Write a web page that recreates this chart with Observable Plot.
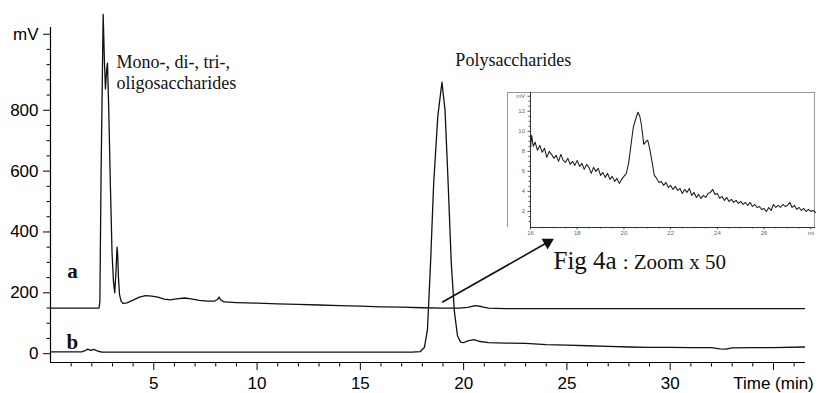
<!DOCTYPE html>
<html>
<head>
<meta charset="utf-8">
<script src="https://cdn.jsdelivr.net/npm/d3@7"></script>
<script src="https://cdn.jsdelivr.net/npm/@observablehq/plot@0.6"></script>
<style>
  html, body { margin: 0; padding: 0; background: white; }
  #wrap { position: relative; width: 821px; height: 393px; }
  #box { position: absolute; left: 507px; top: 92px; width: 308px; height: 135px; box-sizing: border-box; border: 1.5px solid #9a9a9a; border-bottom: none; }
  #inset { position: absolute; left: 507px; top: 92px; }
  svg { overflow: visible; }
</style>
</head>
<body>
<div id="wrap"><div id="box"></div><div id="inset"></div></div>
<script>
// ---- Trace a (upper chromatogram), time in min, signal in mV ----
const aTimes  = [0, 2.35, 2.39, 2.45, 2.55, 2.61, 2.66, 2.72, 2.76, 2.82, 2.9, 2.98, 3.05, 3.11, 3.17, 3.22, 3.25, 3.29, 3.34, 3.42, 3.52, 3.7, 4.0, 4.3, 4.6, 4.9, 5.2, 5.5, 5.8, 6.1, 6.5, 6.8, 7.2, 7.6, 7.95, 8.08, 8.16, 8.25, 8.4, 9, 10, 11, 12, 13, 14, 15, 16, 17, 18, 19, 19.8, 20.2, 20.55, 20.85, 21.2, 22, 25, 30, 36.5];
const aValues = [150, 150, 170, 600, 1115, 960, 870, 935, 955, 800, 550, 330, 235, 200, 270, 350, 330, 250, 195, 172, 165, 167, 176, 186, 191, 189, 186, 179, 177, 180, 183, 180, 175, 173, 173, 178, 186, 176, 170, 168, 166, 164, 162, 160, 158, 156, 154, 153, 151, 150, 150, 152, 158, 155, 150, 148, 148, 148, 148];
// ---- Trace b (lower chromatogram) ----
const bTimes  = [0, 1.5, 1.65, 1.8, 1.95, 2.1, 2.3, 2.5, 10, 17.5, 17.9, 18.1, 18.25, 18.4, 18.55, 18.75, 18.95, 19.1, 19.25, 19.4, 19.55, 19.7, 19.85, 20.0, 20.2, 20.5, 20.8, 21.2, 22, 23, 24, 25, 26, 27, 28, 29, 30, 31, 32, 32.4, 32.7, 33.0, 34, 35, 36.5];
const bValues = [6, 6, 9, 15, 11, 14, 8, 5, 5, 5, 7, 20, 80, 300, 560, 780, 892, 800, 560, 300, 140, 60, 38, 36, 42, 46, 40, 36, 35, 34, 30, 28, 26, 24, 22, 21, 21, 20, 20, 16, 15, 19, 20, 20, 22];
// ---- Inset: Fig 4a zoom x 50 ----
const insetTimes  = [16.0, 16.05, 16.12, 16.2, 16.3, 16.4, 16.5, 16.6, 16.7, 16.8, 16.9, 17.0, 17.1, 17.2, 17.3, 17.4, 17.5, 17.6, 17.7, 17.8, 17.9, 18.0, 18.1, 18.2, 18.3, 18.4, 18.5, 18.6, 18.7, 18.8, 18.9, 19.0, 19.1, 19.2, 19.3, 19.4, 19.5, 19.6, 19.7, 19.8, 19.9, 20.0, 20.1, 20.2, 20.3, 20.4, 20.5, 20.6, 20.68, 20.75, 20.85, 20.95, 21.02, 21.1, 21.2, 21.3, 21.4, 21.5, 21.6, 21.7, 21.8, 21.9, 22.0, 22.1, 22.2, 22.3, 22.4, 22.5, 22.6, 22.7, 22.8, 22.9, 23.0, 23.1, 23.2, 23.3, 23.4, 23.5, 23.6, 23.7, 23.8, 23.9, 24.0, 24.1, 24.2, 24.3, 24.4, 24.5, 24.6, 24.7, 24.8, 24.9, 25.0, 25.1, 25.2, 25.3, 25.4, 25.5, 25.6, 25.7, 25.8, 25.9, 26.0, 26.1, 26.2, 26.3, 26.4, 26.5, 26.6, 26.7, 26.8, 26.9, 27.0, 27.1, 27.2, 27.3, 27.4, 27.5, 27.6, 27.7, 27.8, 27.9, 28.0, 28.1, 28.2];
const insetValues = [8.3, 9.6, 8.5, 8.9, 8.1, 8.6, 7.9, 8.3, 7.4, 8.0, 7.7, 7.3, 7.6, 7.0, 7.7, 7.1, 6.9, 7.3, 6.7, 7.0, 6.6, 7.1, 6.5, 6.8, 6.2, 6.7, 6.4, 5.8, 6.4, 6.0, 6.3, 5.6, 5.9, 5.4, 5.8, 5.2, 5.5, 5.0, 5.3, 4.8, 5.2, 5.5, 5.8, 6.8, 8.6, 10.4, 11.2, 11.9, 11.5, 10.6, 8.7, 9.0, 9.1, 8.3, 7.0, 5.6, 5.3, 4.9, 5.0, 4.6, 4.9, 4.4, 4.6, 4.2, 4.5, 4.1, 4.3, 3.8, 4.2, 3.9, 4.3, 3.6, 3.9, 3.4, 3.7, 3.3, 3.6, 3.4, 3.8, 3.9, 4.2, 3.7, 3.8, 3.3, 3.5, 3.1, 3.4, 3.0, 3.2, 2.9, 3.1, 2.8, 3.0, 2.7, 2.9, 2.6, 2.9, 2.5, 2.7, 2.4, 2.5, 2.2, 2.3, 2.0, 2.4, 2.1, 2.7, 2.4, 2.6, 2.4, 2.7, 2.5, 2.6, 2.9, 2.4, 2.6, 2.2, 2.4, 2.1, 2.3, 2.0, 2.2, 2.0, 2.1, 1.9];

// ---- Axis ticks and labels ----
const xMajorTicks = [5, 10, 15, 20, 25, 30, 35];
const xMinorTicks = [1,2,3,4,6,7,8,9,11,12,13,14,16,17,18,19,21,22,23,24,26,27,28,29,31,32,33,34,36];
const xAxisTitle = "Time (min)";
const yMajorTicks = [0, 200, 400, 600, 800, 1050];
const yMinorTicks = [50,100,150,250,300,350,450,500,550,650,700,750,850,900,950,1000];
const yAxisTitle = "mV";
const xDomain = [0, 36.55];
const yDomain = [-29, 1118];
const yAxisTop = 1072;

const insetXTicks = [16, 18, 20, 22, 24, 26, 28];
const insetXMinor = [16.5,17,17.5,18.5,19,19.5,20.5,21,21.5,22.5,23,23.5,24.5,25,25.5,26.5,27,27.5];
const insetYTicks = [2, 4, 6, 8, 10, 12, 13.5];
const insetYMinor = [1,1.5,2.5,3,3.5,4.5,5,5.5,6.5,7,7.5,8.5,9,9.5,10.5,11,11.5,12.5,13];

// ---- Annotations ----
const monoLabel = {t: 3.19, v: 926.5, text: "Mono-, di-, tri-,\noligosaccharides"};
const polyLabel = {t: 19.6, v: 963, text: "Polysaccharides"};
const traceLabels = [{t: 1.06, v: 269.5, text: "a"}, {t: 1.06, v: 38.8, text: "b"}];
const figLabel = {t: 24.35, v: 306, text: "Fig 4a"};
const zoomLabel = {t: 27.7, v: 301, text: ": Zoom x 50"};
const arrowTail = [18.96, 169];
const arrowHead = [24.07, 366];   // centre of the filled arrowhead
const arrowAngle = 60.4;          // degrees clockwise from "up"

const aData = aTimes.map((t, i) => ({t, v: aValues[i]}));
const bData = bTimes.map((t, i) => ({t, v: bValues[i]}));
const insetData = insetTimes.map((t, i) => ({t, v: insetValues[i]}));

const sans = "'Liberation Sans', Arial, Helvetica, sans-serif";
const serif = "'Liberation Serif', 'Times New Roman', Times, serif";

const main = Plot.plot({
  width: 821,
  height: 393,
  marginLeft: 50,
  marginRight: 16,
  marginTop: 13,
  marginBottom: 31,
  style: {fontFamily: sans, fontSize: "17px", background: "white", color: "black"},
  x: {domain: xDomain},
  y: {domain: yDomain},
  marks: [
    Plot.axisX({ticks: xMajorTicks, tickSize: 8, tickPadding: 6.5, fontSize: 17,
      tickFormat: d => d === 35 ? xAxisTitle : String(d), label: null}),
    Plot.axisX({ticks: xMinorTicks, tickSize: 4.5, tickFormat: () => "", label: null}),
    Plot.axisY({ticks: yMajorTicks, tickSize: 7, tickPadding: 5, fontSize: 17,
      tickFormat: d => d === 1050 ? yAxisTitle : String(d), label: null}),
    Plot.axisY({ticks: yMinorTicks, tickSize: 3.5, tickFormat: () => "", label: null}),
    Plot.ruleY([yDomain[0]], {stroke: "black", strokeWidth: 1.2}),
    Plot.ruleX([xDomain[0]], {y1: yDomain[0], y2: yAxisTop, stroke: "black", strokeWidth: 1.2}),
    Plot.line(aData, {x: "t", y: "v", stroke: "#111", strokeWidth: 1.3}),
    Plot.line(bData, {x: "t", y: "v", stroke: "#111", strokeWidth: 1.3}),
    Plot.text([monoLabel], {x: "t", y: "v", text: "text", textAnchor: "start", fontFamily: serif, fontSize: 18, lineHeight: 1.144, fill: "#111"}),
    Plot.text([polyLabel], {x: "t", y: "v", text: "text", textAnchor: "start", fontFamily: serif, fontSize: 18, fill: "#111"}),
    Plot.text(traceLabels, {x: "t", y: "v", text: "text", fontFamily: serif, fontSize: 21, fontWeight: "bold", fill: "#111"}),
    Plot.text([figLabel], {x: "t", y: "v", text: "text", textAnchor: "start", fontFamily: serif, fontSize: 25, fill: "#111"}),
    Plot.text([zoomLabel], {x: "t", y: "v", text: "text", textAnchor: "start", fontFamily: serif, fontSize: 21, fill: "#111"}),
    Plot.link([{x1: arrowTail[0], y1: arrowTail[1], x2: arrowHead[0], y2: arrowHead[1]}],
      {x1: "x1", y1: "y1", x2: "x2", y2: "y2", stroke: "#111", strokeWidth: 1.6}),
    Plot.dot([{t: arrowHead[0], v: arrowHead[1]}],
      {x: "t", y: "v", symbol: "triangle", r: 4.6, rotate: arrowAngle, fill: "#111", stroke: "none"})
  ]
});
document.getElementById("wrap").prepend(main);

const inset = Plot.plot({
  width: 308,
  height: 141,
  marginLeft: 23,
  marginRight: 0,
  marginTop: 0,
  marginBottom: 6,
  style: {fontFamily: sans, fontSize: "6px", background: "transparent", color: "#555"},
  x: {domain: [16, 28.2]},
  y: {domain: [0.4, 13.87]},
  marks: [
    Plot.axisX({ticks: insetXTicks, tickSize: 2.5, tickPadding: 0.5, fontSize: 6, fill: "#666",
      tickFormat: d => d === 28 ? "mi" : String(d), label: null}),
    Plot.axisX({ticks: insetXMinor, tickSize: 1.5, tickFormat: () => "", label: null}),
    Plot.axisY({ticks: insetYTicks, tickSize: 2.5, tickPadding: 3, fontSize: 6, fill: "#666",
      tickFormat: d => d === 13.5 ? "mV" : String(d), label: null}),
    Plot.axisY({ticks: insetYMinor, tickSize: 1.5, tickFormat: () => "", label: null}),
    Plot.ruleY([0.4], {stroke: "#333", strokeWidth: 1}),
    Plot.ruleX([16], {stroke: "#333", strokeWidth: 1}),
    Plot.line(insetData, {x: "t", y: "v", stroke: "#1a1a1a", strokeWidth: 1.05})
  ]
});
document.getElementById("inset").append(inset);
</script>
</body>
</html>
